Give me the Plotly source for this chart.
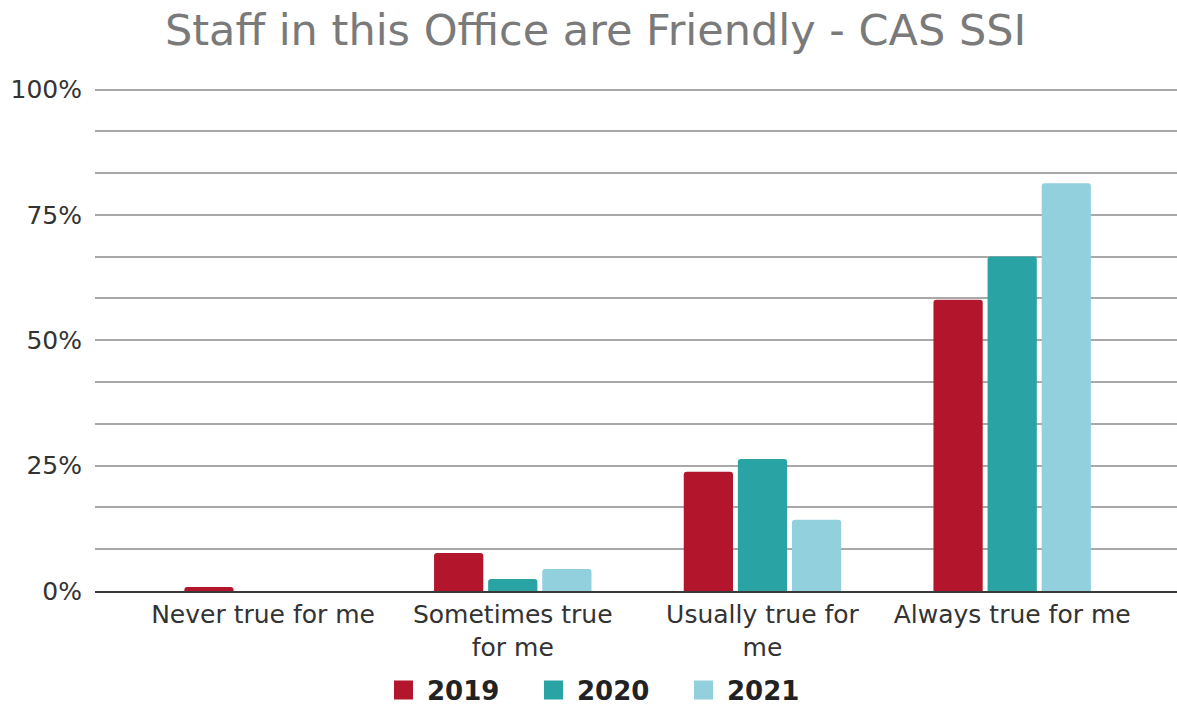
import plotly.graph_objects as go

categories = ["Never true for me", "Sometimes true<br>for me", "Usually true for<br>me", "Always true for me"]
years = ["2019", "2020", "2021"]
values_2019 = [0.8, 7.6, 23.8, 58.1]
values_2020 = [0.0, 2.4, 26.3, 66.7]
values_2021 = [0.0, 4.4, 14.2, 81.3]
colors = ["#B3152C", "#2AA3A5", "#93D0DD"]
grid_vals = [i * 100 / 12 for i in range(13)]
grid_text = [f"{round(v)}%" if i % 3 == 0 else "" for i, v in enumerate(grid_vals)]

series = [values_2019, values_2020, values_2021]

fig = go.Figure()
for name, vals, col in zip(years, series, colors):
    fig.add_trace(go.Bar(
        x=categories, y=vals, name=name, showlegend=False,
        marker=dict(color=col, line=dict(width=0), cornerradius=3),
    ))
for name, col in zip(years, colors):
    fig.add_trace(go.Scatter(
        x=[None], y=[None], mode="markers", name=name,
        marker=dict(symbol="square", size=16, color=col, line=dict(color=col, width=3)),
    ))

fig.update_layout(
    width=1177, height=707,
    margin=dict(l=95, r=0, t=88, b=116),
    paper_bgcolor="white", plot_bgcolor="white",
    barmode="group", bargap=0.35, bargroupgap=0.09,
    font=dict(family="DejaVu Sans, Verdana, sans-serif", color="#333333", size=25),
    title=dict(
        text="Staff in this Office are Friendly - CAS SSI",
        font=dict(family="DejaVu Sans, Verdana, sans-serif", size=43, color="#7a7a7a"),
        xref="container", x=0.506, xanchor="center",
        yref="container", y=1 - 30 / 707, yanchor="middle",
    ),
    legend=dict(
        orientation="h", xref="container", x=0.514, xanchor="center",
        yref="container", y=1 - 690 / 707, yanchor="middle",
        font=dict(size=26, color="#222222", family="DejaVu Sans, Verdana, sans-serif", weight="bold"),
        itemsizing="trace", itemwidth=37, tracegroupgap=0,
        entrywidth=98, entrywidthmode="pixels",
    ),
    xaxis=dict(
        range=[-0.673, 3.66], showgrid=False, showline=True,
        linecolor="#3a3a3a", linewidth=2, ticks="",
        tickfont=dict(size=25, color="#333333"),
    ),
    yaxis=dict(
        range=[0, 100.3], tickvals=grid_vals, ticktext=grid_text,
        showgrid=True, gridcolor="#a8a8a8", gridwidth=1.5,
        zeroline=False, showline=False, ticks="",
        ticklabelstandoff=12,
        tickfont=dict(size=25, color="#333333"),
    ),
)

fig.write_html("out.html")
